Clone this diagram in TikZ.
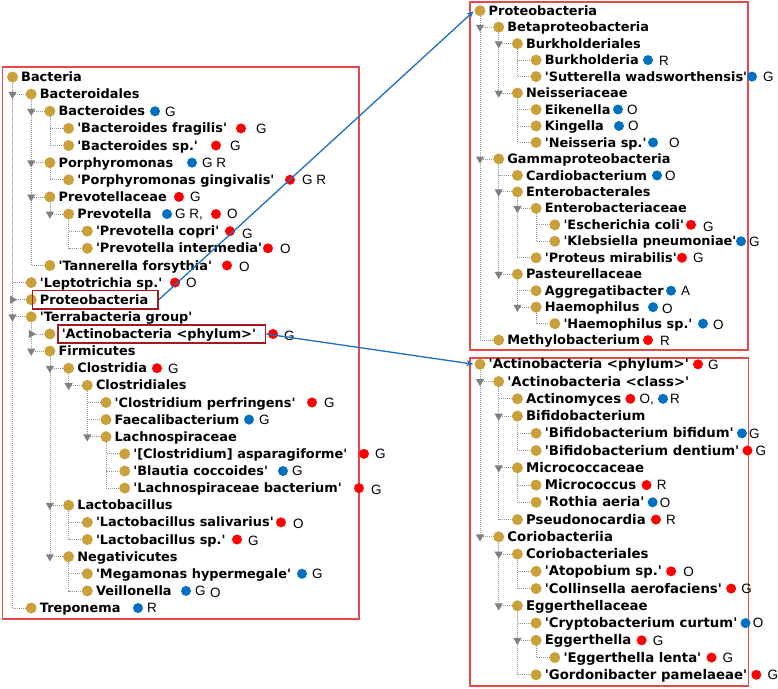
\documentclass[tikz,border=0pt]{standalone}
\usepackage{fontspec}
\newfontfamily\lblfont{DejaVu Sans}
\newfontfamily\bdgfont{Liberation Sans}
\usetikzlibrary{arrows.meta,shapes.geometric}
\definecolor{gold}{RGB}{201,160,58}
\definecolor{dred}{RGB}{255,0,0}
\definecolor{dblue}{RGB}{0,112,192}
\definecolor{boxred}{RGB}{232,72,72}
\definecolor{hlred}{RGB}{165,25,30}
\definecolor{arrblue}{RGB}{30,110,195}
\definecolor{treegray}{RGB}{150,150,150}
\definecolor{trigray}{RGB}{128,128,128}
\newcommand\q{\textquotesingle}
\def\BX{12.5}\def\BY{77}\def\DY{17.13}
\newcommand\R[5][8.5]{%
  \pgfmathsetmacro\yy{\BY+\DY*#3}%
  \pgfmathsetmacro\xx{\BX+18.7*#4}%
  \node[bul] (#2) at (\xx,\yy) {};%
  \node[lbl] (#2t) at (\xx+#1,\yy+4.6) {#5};}
\newcommand\D[6]{%
  \node[bdot,fill=#2] (#1d) at (#3,\yy) {};%
  \node[blet] (#1l) at (#5,\yy+#6) {#4};}
\newcommand\Drel[6]{%
  \node[bdot,fill=#2] (#1d) at ([xshift=#3pt]#1t.east) {};%
  \node[blet] (#1l) at ([xshift=#5pt,yshift=-#6pt]#1d.center) {#4};}
\tikzset{
 bul/.style={circle,fill=gold,minimum size=11pt,inner sep=0pt},
 lbl/.style={anchor=base west,inner sep=0pt,font={\lblfont\bfseries\fontsize{12.9}{15}\selectfont},text height=9.2pt,text depth=0pt},
 bdot/.style={circle,minimum size=10pt,inner sep=0pt},
 blet/.style={anchor=west,inner sep=0pt,font={\bdgfont\fontsize{13.5}{15}\selectfont},text height=9.8pt,text depth=0pt},
 treeline/.style={draw=treegray,line width=0.75pt,dash pattern=on 1pt off 1pt},
 tridown/.style={regular polygon,regular polygon sides=3,shape border rotate=180,fill=trigray,minimum size=9.5pt,inner sep=0pt},
 triright/.style={regular polygon,regular polygon sides=3,shape border rotate=270,fill=trigray,minimum size=9.5pt,inner sep=0pt},
 hlbox/.style={draw=hlred,line width=1.8pt,inner sep=0pt,anchor=west},
 frame/.style={draw=boxred,line width=1.3pt},
 link/.style={draw=arrblue,line width=1.3pt,-{Stealth[length=7pt,width=6pt]},shorten >=1pt},
}
\begin{document}
\begin{tikzpicture}[x=1pt,y=-1pt]
\fill[white] (0,0) rectangle (778,688);
\useasboundingbox (0,0) rectangle (778,688);
% frames
\draw[frame] (2.5,67) rectangle (359,619);
\draw[frame] (470,2) rectangle (748,350);
\draw[frame] (470,358) rectangle (748.5,686);
% ---------------- left tree
\def\BX{12.5}\def\BY{77}\def\DY{17.13}
\R{bac}{0}{0}{Bacteria}
\R{bcd}{1}{1}{Bacteroidales}
\R{bdes}{2}{2}{Bacteroides} \D{bdes}{dblue}{155}{G}{165}{0}
\R{bfra}{3}{3}{\q Bacteroides fragilis\q} \D{bfra}{dred}{241}{G}{256}{0}
\R{bsp}{4}{3}{\q Bacteroides sp.\q} \D{bsp}{dred}{216}{G}{230}{0}
\R{por}{5}{2}{Porphyromonas} \D{por}{dblue}{192}{G R}{202}{0}
\R{pgin}{6}{3}{\q Porphyromonas gingivalis\q} \D{pgin}{dred}{290}{G R}{302}{0}
\R{prc}{7}{2}{Prevotellaceae} \D{prc}{dred}{179}{G}{190}{0}
\R{prv}{8}{3}{Prevotella} \D{prv}{dblue}{167}{G R,}{175}{0} \D{prvb}{dred}{216}{O}{227}{0}
\R{pcop}{9}{4}{\q Prevotella copri\q} \D{pcop}{dred}{230}{G}{242}{2}
\R{pint}{10}{4}{\q Prevotella intermedia\q} \D{pint}{dred}{268}{O}{280}{0}
\R{tan}{11}{2}{\q Tannerella forsythia\q} \D{tan}{dred}{227}{O}{239}{1}
\R{lep}{12}{1}{\q Leptotrichia sp.\q} \D{lep}{dred}{175}{O}{186}{0}
\R{pro}{13}{1}{Proteobacteria}
\R{ter}{14}{1}{\q Terrabacteria group\q}
\R[11.7]{act}{15}{2}{\q Actinobacteria <phylum>\q} \D{act}{dred}{273}{G}{284}{2}
\R{fir}{16}{2}{Firmicutes}
\R{cla}{17}{3}{Clostridia} \D{cla}{dred}{157}{G}{168}{0}
\R{cle}{18}{4}{Clostridiales}
\R{cpe}{19}{5}{\q Clostridium perfringens\q} \D{cpe}{dred}{312}{G}{324}{0}
\R{fae}{20}{5}{Faecalibacterium} \D{fae}{dblue}{249}{G}{259}{0}
\R{lac}{21}{5}{Lachnospiraceae}
\R{asp}{22}{6}{\q[Clostridium] asparagiforme\q} \D{asp}{dred}{364}{G}{375}{0}
\R{bla}{23}{6}{\q Blautia coccoides\q} \D{bla}{dblue}{283}{G}{292}{0}
\R{lbac}{24}{6}{\q Lachnospiraceae bacterium\q} \D{lbac}{dred}{359}{G}{371}{1}
\R{lab}{25}{3}{Lactobacillus}
\R{lsal}{26}{4}{\q Lactobacillus salivarius\q} \D{lsal}{dred}{281}{O}{293}{1}
\R{lsp}{27}{4}{\q Lactobacillus sp.\q} \D{lsp}{dred}{237}{G}{248}{1}
\R{neg}{28}{3}{Negativicutes}
\R{meg}{29}{4}{\q Megamonas hypermegale\q} \D{meg}{dblue}{302}{G}{312}{0}
\R{vei}{30}{4}{Veillonella} \D{vei}{dblue}{186}{G}{195}{0} \node[blet] (veio) at (210,\yy+2) {O};
\R{tre}{31}{1}{Treponema} \D{tre}{dblue}{138}{R}{147}{0}
\foreach \p/\c in {bac/bcd,bac/lep,bac/pro,bac/ter,bac/tre,bcd/bdes,bcd/por,bcd/prc,bcd/tan,
  bdes/bfra,bdes/bsp,por/pgin,prc/prv,prv/pcop,prv/pint,ter/act,ter/fir,
  fir/cla,fir/lab,fir/neg,cla/cle,cle/cpe,cle/fae,cle/lac,lac/asp,lac/bla,lac/lbac,
  lab/lsal,lab/lsp,neg/meg,neg/vei}
  \draw[treeline] (\p) |- (\c);
\foreach \p/\c in {bac/bcd,bcd/bdes,bcd/por,bcd/prc,prc/prv,bac/ter,ter/fir,fir/cla,cla/cle,cle/lac,fir/lab,fir/neg}
  \node[tridown] (\c h) at (\p |- \c) {};
\node[triright] (proh) at (bac |- pro) {};
\node[triright] (acth) at (ter |- act) {};
\node[hlbox,minimum width=125.5pt,minimum height=18.5pt] (probox) at (31.5,299.7) {};
\node[hlbox,minimum width=207.5pt,minimum height=18pt] (actbox) at (57,334) {};
% ---------------- top right tree
\def\BX{480}\def\BY{10.7}\def\DY{16.47}
\R{p0}{0}{0}{Proteobacteria}
\R{beta}{1}{1}{Betaproteobacteria}
\R{burk}{2}{2}{Burkholderiales}
\R{bur}{3}{3}{Burkholderia} \D{bur}{dblue}{648}{R}{659}{0}
\R{sut}{4}{3}{\q Sutterella wadsworthensis\q} \D{sut}{dblue}{752}{G}{763}{0}
\R{nei}{5}{2}{Neisseriaceae}
\R{eik}{6}{3}{Eikenella} \D{eik}{dblue}{618}{O}{627}{0}
\R{kin}{7}{3}{Kingella} \D{kin}{dblue}{619}{O}{628}{0}
\R{nsp}{8}{3}{\q Neisseria sp.\q} \D{nsp}{dblue}{653}{O}{669}{0}
\R{gam}{9}{1}{Gammaproteobacteria}
\R{car}{10}{2}{Cardiobacterium} \D{car}{dblue}{657}{O}{665}{0}
\R{ebl}{11}{2}{Enterobacterales}
\R{ebc}{12}{3}{Enterobacteriaceae}
\R{eco}{13}{4}{\q Escherichia coli\q} \D{eco}{dred}{691}{G}{703}{2}
\R{kpn}{14}{4}{\q Klebsiella pneumoniae\q} \D{kpn}{dblue}{741}{G}{749}{0}
\R{pmi}{15}{3}{\q Proteus mirabilis\q} \D{pmi}{dred}{682}{G}{693}{0}
\R{pas}{16}{2}{Pasteurellaceae}
\R{agg}{17}{3}{Aggregatibacter} \D{agg}{dblue}{671}{A}{681}{0}
\R{hae}{18}{3}{Haemophilus} \D{hae}{dblue}{653}{O}{662}{1}
\R{hsp}{19}{4}{\q Haemophilus sp.\q} \D{hsp}{dblue}{703}{O}{713}{1}
\R{met}{20}{1}{Methylobacterium} \D{met}{dred}{648}{R}{660}{0}
\foreach \p/\c in {p0/beta,p0/gam,p0/met,beta/burk,beta/nei,burk/bur,burk/sut,
  nei/eik,nei/kin,nei/nsp,gam/car,gam/ebl,gam/pas,ebl/ebc,ebl/pmi,ebc/eco,ebc/kpn,
  pas/agg,pas/hae,hae/hsp}
  \draw[treeline] (\p) |- (\c);
\foreach \p/\c in {p0/beta,beta/burk,beta/nei,p0/gam,gam/ebl,ebl/ebc,gam/pas,pas/hae}
  \node[tridown] (\c h) at (\p |- \c) {};
% ---------------- bottom right tree
\tikzset{lbl/.append style={font={\lblfont\bfseries\fontsize{13.3}{15}\selectfont}}}
\def\BX{480}\def\BY{364.3}\def\DY{17.25}
\R{a0}{0}{0}{\q Actinobacteria <phylum>\q} \D{a0}{dred}{698}{G}{708}{0}
\R{acl}{1}{1}{\q Actinobacteria <class>\q}
\R{amy}{2}{2}{Actinomyces} \Drel{amy}{dred}{9}{O,}{9}{0}
\node[bdot,fill=dblue] (amy2d) at ([xshift=9pt]amyl.east) {};
\node[blet] (amy2l) at ([xshift=7pt]amy2d.center) {R};
\R{bif}{3}{2}{Bifidobacterium}
\R{bbi}{4}{3}{\q Bifidobacterium bifidum\q} \Drel{bbi}{dblue}{8}{G}{7}{0}
\R{bde}{5}{3}{\q Bifidobacterium dentium\q} \Drel{bde}{dred}{8}{G}{8}{0}
\R{mic}{6}{2}{Micrococcaceae}
\R{mcc}{7}{3}{Micrococcus} \Drel{mcc}{dred}{10}{R}{10}{0}
\R{rot}{8}{3}{\q Rothia aeria\q} \Drel{rot}{dblue}{8}{O}{7}{0}
\R{pse}{9}{2}{Pseudonocardia} \Drel{pse}{dred}{10}{R}{10}{0}
\R{cor}{10}{1}{Coriobacteriia}
\R{crl}{11}{2}{Coriobacteriales}
\R{ato}{12}{3}{\q Atopobium sp.\q} \Drel{ato}{dred}{9}{O}{12}{0}
\R{col}{13}{3}{\q Collinsella aerofaciens\q} \Drel{col}{dred}{9}{G}{10}{0}
\R{egc}{14}{2}{Eggerthellaceae}
\R{cry}{15}{3}{\q Cryptobacterium curtum\q} \Drel{cry}{dblue}{8}{O}{7}{0}
\R{egg}{16}{3}{Eggerthella} \Drel{egg}{dred}{10}{G}{11}{0}
\R{egl}{17}{4}{\q Eggerthella lenta\q} \Drel{egl}{dred}{10}{G}{11}{0}
\R{gor}{18}{3}{\q Gordonibacter pamelaeae\q} \Drel{gor}{dred}{9}{G}{11}{0}
\foreach \p/\c in {a0/acl,a0/cor,acl/amy,acl/bif,acl/mic,acl/pse,bif/bbi,bif/bde,
  mic/mcc,mic/rot,cor/crl,cor/egc,crl/ato,crl/col,egc/cry,egc/egg,egc/gor,egg/egl}
  \draw[treeline] (\p) |- (\c);
\foreach \p/\c in {a0/acl,acl/bif,acl/mic,a0/cor,cor/crl,cor/egc,egc/egg}
  \node[tridown] (\c h) at (\p |- \c) {};
% ---------------- links
\draw[link] (probox.east) -- (p0.west);
\draw[link] (actbox.east) -- (a0.west);
\end{tikzpicture}
\end{document}
